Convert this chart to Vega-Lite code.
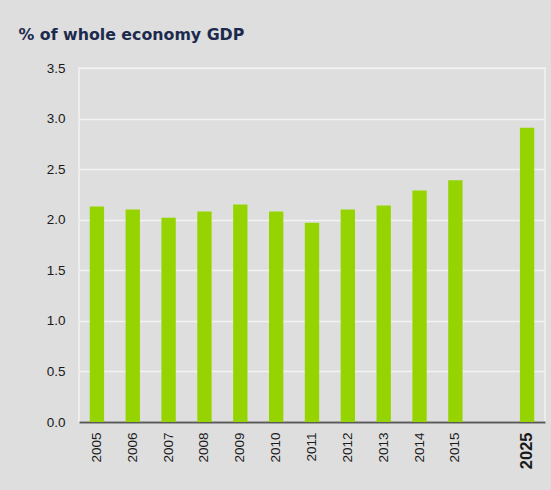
{
  "$schema": "https://vega.github.io/schema/vega-lite/v6.json",
  "autosize": "none",
  "width": 466,
  "height": 354,
  "padding": {"left": 79, "top": 68, "right": 6, "bottom": 68},
  "background": "#dedede",
  "data": {
    "values": [
      {"year": "2005", "value": 2.13},
      {"year": "2006", "value": 2.10},
      {"year": "2007", "value": 2.02},
      {"year": "2008", "value": 2.08},
      {"year": "2009", "value": 2.15},
      {"year": "2010", "value": 2.08},
      {"year": "2011", "value": 1.97},
      {"year": "2012", "value": 2.10},
      {"year": "2013", "value": 2.14},
      {"year": "2014", "value": 2.29},
      {"year": "2015", "value": 2.39},
      {"year": "2025", "value": 2.91}
    ]
  },
  "mark": {"type": "bar", "color": "#95d400"},
  "encoding": {
    "x": {
      "field": "year",
      "type": "nominal",
      "sort": null,
      "scale": {
        "domain": ["2005", "2006", "2007", "2008", "2009", "2010", "2011", "2012", "2013", "2014", "2015", " ", "2025"],
        "paddingInner": 0.6,
        "paddingOuter": 0.3
      },
      "axis": {
        "title": null,
        "labelAngle": -90,
        "labelAlign": "right",
        "labelBaseline": "middle",
        "labelPadding": 10,
        "ticks": false,
        "domainColor": "#5a5a5a",
        "domainWidth": 2,
        "labelFont": "Liberation Sans",
        "labelColor": "#1a1a1a",
        "labelFontSize": {"condition": {"test": "datum.value == '2025'", "value": 16.5}, "value": 13.5},
        "labelFontWeight": {"condition": {"test": "datum.value == '2025'", "value": "bold"}, "value": "normal"}
      }
    },
    "y": {
      "field": "value",
      "type": "quantitative",
      "scale": {"domain": [0, 3.5], "nice": false},
      "axis": {
        "values": [0, 0.5, 1, 1.5, 2, 2.5, 3, 3.5],
        "format": ".1f",
        "domain": false,
        "ticks": false,
        "labelPadding": 14,
        "labelFont": "Liberation Sans",
        "labelFontSize": 13.5,
        "labelColor": "#1a1a1a",
        "gridColor": "#f2f2f2",
        "gridWidth": 1.5,
        "title": "% of whole economy GDP",
        "titleAngle": 0,
        "titleAlign": "left",
        "titleBaseline": "alphabetic",
        "titleX": -61,
        "titleY": -29,
        "titleFont": "DejaVu Sans",
        "titleFontSize": 15.8,
        "titleFontWeight": "bold",
        "titleColor": "#1c2a4e"
      }
    }
  },
  "config": {
    "view": {"stroke": "#f2f2f2", "strokeWidth": 1.5}
  }
}
